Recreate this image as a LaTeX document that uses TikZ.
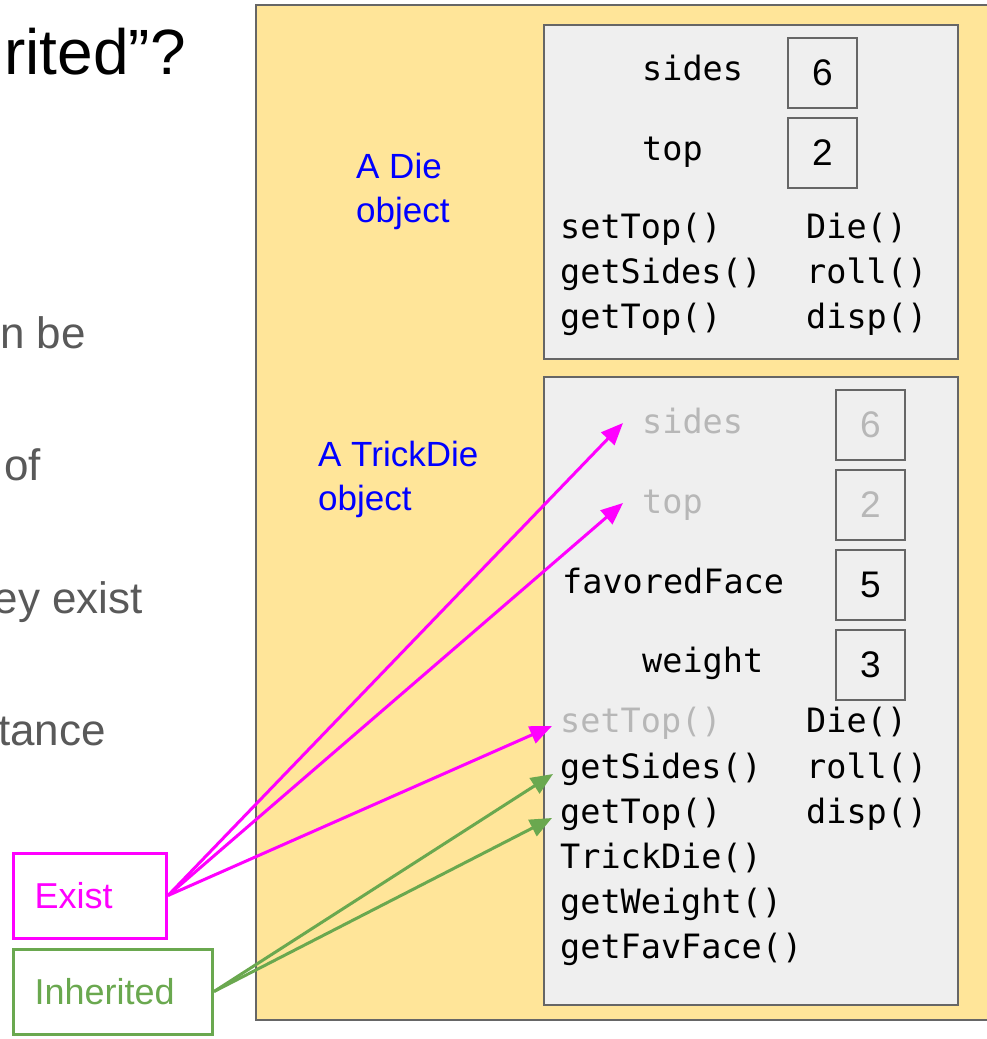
\documentclass[tikz,border=0pt]{standalone}
\usepackage{fontspec}
\setmainfont{Liberation Sans}
\newfontfamily\codefont{DejaVu Sans Mono}
\usetikzlibrary{arrows.meta}
\definecolor{yel}{HTML}{FFE599}
\definecolor{panel}{HTML}{EFEFEF}
\definecolor{bord}{HTML}{666666}
\definecolor{mag}{HTML}{FF00FF}
\definecolor{grn}{HTML}{6AA84F}
\definecolor{lbl}{HTML}{0000FF}
\definecolor{txtgray}{HTML}{595959}
\definecolor{faded}{HTML}{B7B7B7}
\tikzset{
  code/.style={anchor=base west, inner sep=0pt, font=\codefont\fontsize{33.5}{40}\selectfont},
  fadedcode/.style={code, text=faded},
  valbox/.style={draw=bord, fill=panel, line width=2pt, minimum width=69pt, minimum height=70pt, inner sep=0pt, font=\fontsize{37}{42}\selectfont},
  fadedval/.style={valbox, text=faded},
  objlabel/.style={anchor=base west, inner sep=0pt, text=lbl, font=\fontsize{35}{40}\selectfont},
  bodytext/.style={anchor=base east, inner sep=0pt, text=txtgray, font=\fontsize{44}{50}\selectfont},
  legend/.style={draw, line width=3pt, anchor=west, inner xsep=21pt, minimum height=85pt, align=left, font=\fontsize{36}{40}\selectfont},
  magarrow/.style={draw=mag, line width=3pt, -{Triangle[length=22pt,width=18pt]}},
  grnarrow/.style={draw=grn, line width=3pt, -{Triangle[length=22pt,width=18pt]}}
}
\begin{document}
\begin{tikzpicture}[x=1pt,y=-1pt]
\useasboundingbox (0,0) rectangle (987,1039);
% left slide text
\node[anchor=base east, inner sep=0pt, font=\fontsize{64}{70}\selectfont] (title) at (186,74) {rited”?};
\node[bodytext] (b1) at (86,348) {n be};
\node[bodytext] (b2) at (41,480) {of};
\node[bodytext] (b3) at (143,613) {ey exist};
\node[bodytext] (b4) at (106,745) {tance};
% outer yellow box
\draw[fill=yel, draw=bord, line width=2pt] (256,5) rectangle (995,1020);
% Die panel
\draw[fill=panel, draw=bord, line width=2pt] (544,25) rectangle (958,359);
\node[objlabel] (dielbl1) at (356,178) {A Die};
\node[objlabel] (dielbl2) at (356,222) {object};
\node[code] (dsides) at (642,80) {sides};
\node[code] (dtop) at (642,160) {top};
\node[valbox] (dv6) at (822.5,73) {6};
\node[valbox] (dv2) at (822.5,153) {2};
\node[code] (dm1) at (560,238) {setTop()};
\node[code] (dm2) at (560,283) {getSides()};
\node[code] (dm3) at (560,328) {getTop()};
\node[code] (dm4) at (806,238) {Die()};
\node[code] (dm5) at (806,283) {roll()};
\node[code] (dm6) at (806,328) {disp()};
% TrickDie panel
\draw[fill=panel, draw=bord, line width=2pt] (544,377) rectangle (958,1005);
\node[objlabel] (tdlbl1) at (318,466) {A TrickDie};
\node[objlabel] (tdlbl2) at (318,510) {object};
\node[fadedcode] (tsides) at (642,433) {sides};
\node[fadedcode] (ttop) at (642,513) {top};
\node[code] (tfav) at (562,593) {favoredFace};
\node[code] (tweight) at (642,672) {weight};
\node[fadedval] (tv6) at (870.5,425) {6};
\node[fadedval] (tv2) at (870.5,505) {2};
\node[valbox] (tv5) at (870.5,585) {5};
\node[valbox] (tv3) at (870.5,665) {3};
\node[fadedcode] (tm1) at (560,732) {setTop()};
\node[code] (tm2) at (560,778) {getSides()};
\node[code] (tm3) at (560,823) {getTop()};
\node[code] (tm4) at (560,868) {TrickDie()};
\node[code] (tm5) at (560,913) {getWeight()};
\node[code] (tm6) at (560,958) {getFavFace()};
\node[code] (tm7) at (806,732) {Die()};
\node[code] (tm8) at (806,778) {roll()};
\node[code] (tm9) at (806,823) {disp()};
% legend boxes
\node[legend, draw=mag, text=mag, text width=111pt] (exist) at (12,895.5) {Exist};
\node[legend, draw=grn, text=grn, text width=157pt] (inh) at (12,991.5) {Inherited};
% arrow targets
\coordinate (aSides) at (623,423);
\coordinate (aTop) at (623,503);
\coordinate (aSet) at (552,726);
\coordinate (aGetS) at (553,774);
\coordinate (aGetT) at (552,818);
\draw[magarrow] (exist.east) -- (aSides);
\draw[magarrow] (exist.east) -- (aTop);
\draw[magarrow] (exist.east) -- (aSet);
\draw[grnarrow] (inh.east) -- (aGetS);
\draw[grnarrow] (inh.east) -- (aGetT);
\end{tikzpicture}
\end{document}
